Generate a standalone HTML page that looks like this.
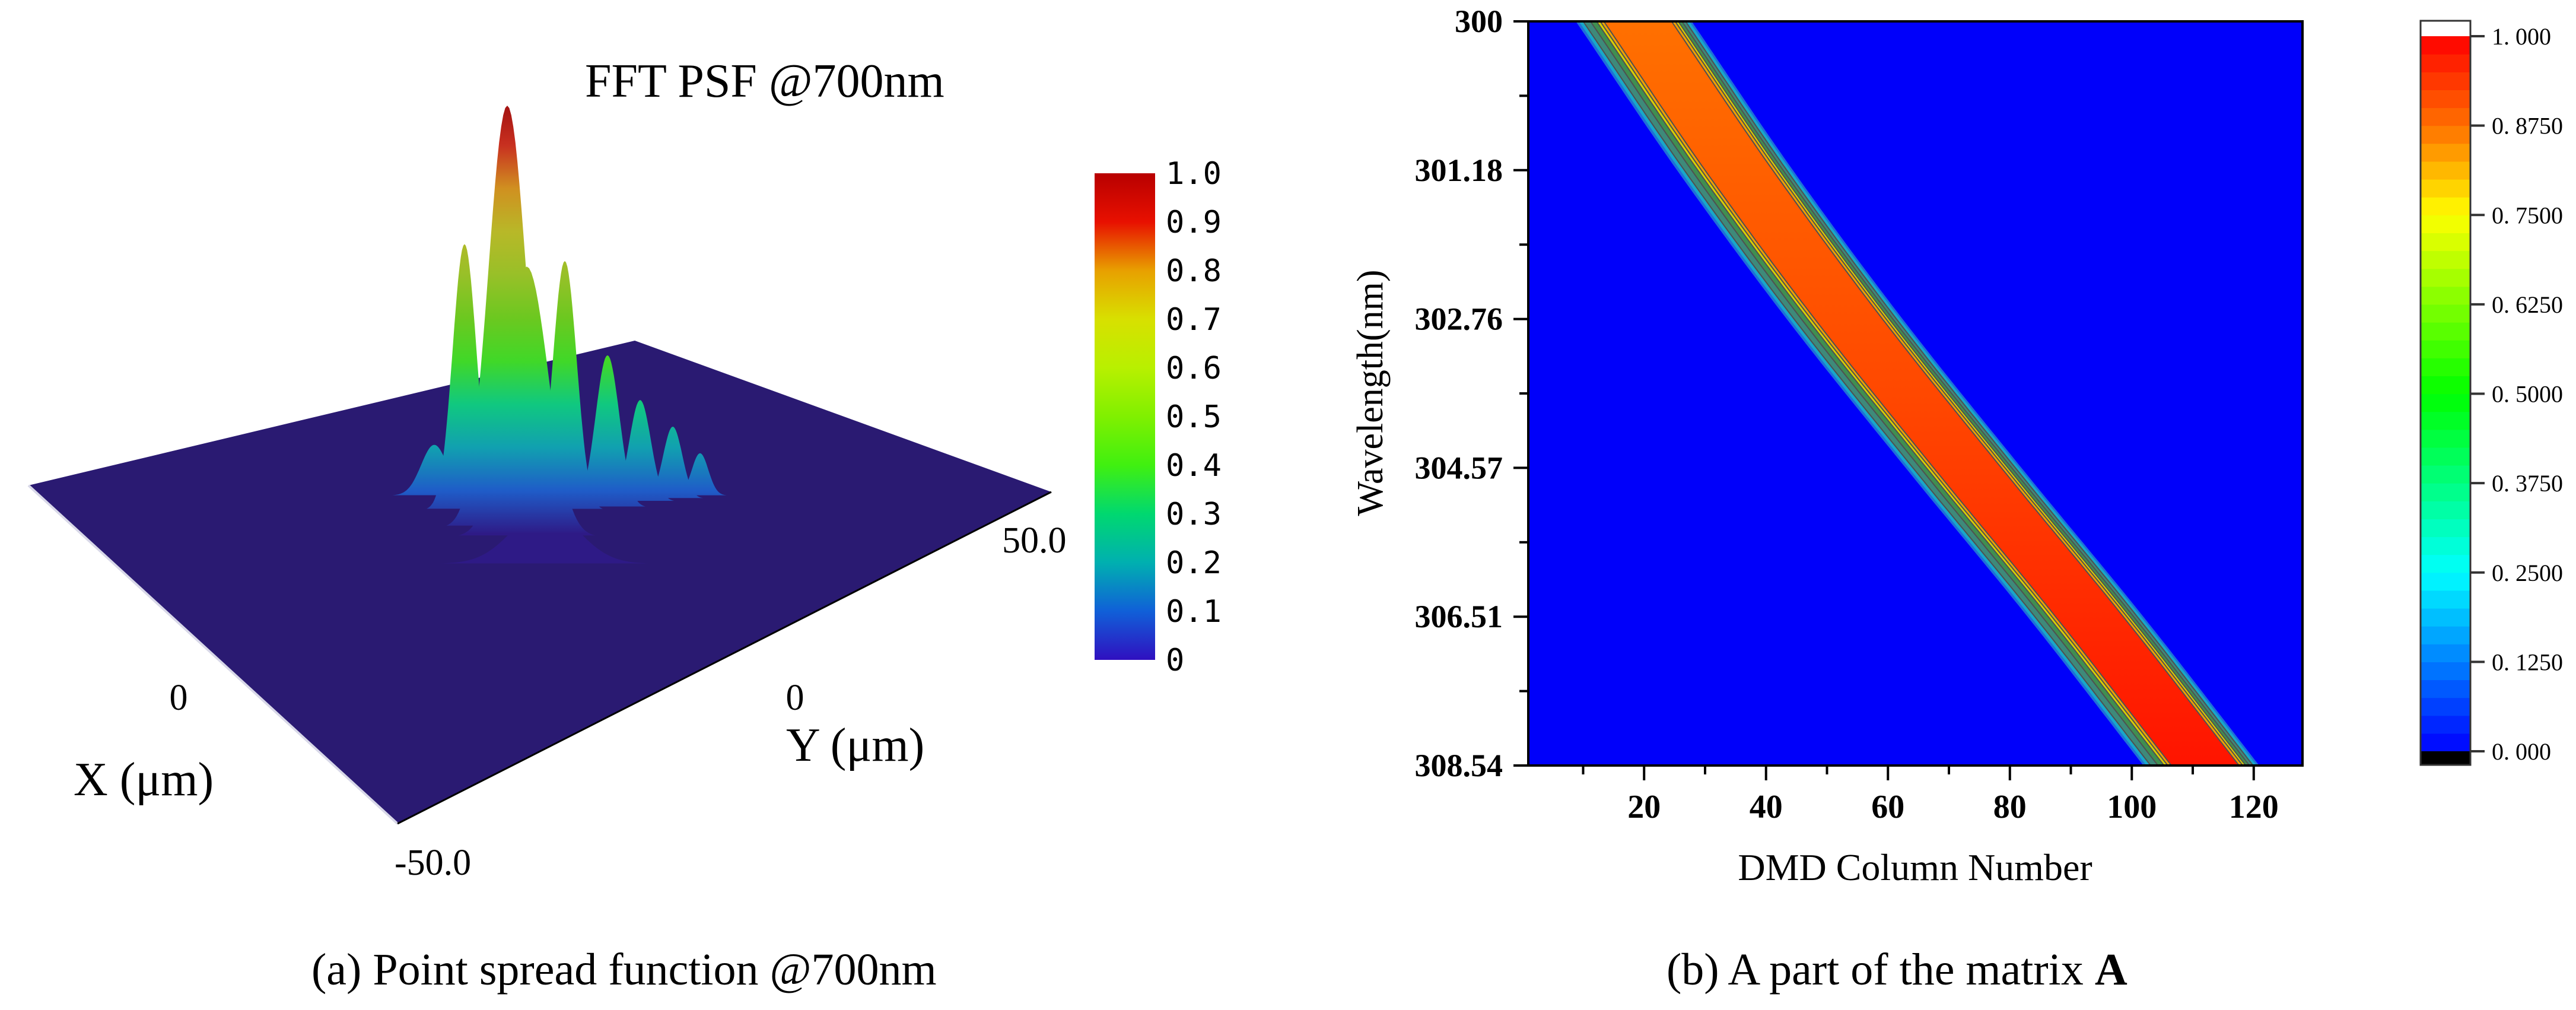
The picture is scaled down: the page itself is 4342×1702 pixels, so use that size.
<!DOCTYPE html>
<html><head><meta charset="utf-8"><style>
html,body{margin:0;padding:0;background:#fff;}
svg{display:block;}
text{font-family:"Liberation Serif",serif;fill:#000;}
</style></head><body>
<svg id="fig" width="4342" height="1702" viewBox="0 0 4342 1702" xmlns="http://www.w3.org/2000/svg">
<defs>
<linearGradient id="psfGrad" gradientUnits="userSpaceOnUse" x1="0" y1="900" x2="0" y2="172">
<stop offset="0" stop-color="#2e1a86"/><stop offset="0.1" stop-color="#1f5cc8"/><stop offset="0.2" stop-color="#11a0b0"/><stop offset="0.3" stop-color="#10c880"/><stop offset="0.4" stop-color="#40d828"/><stop offset="0.5" stop-color="#6cc820"/><stop offset="0.6" stop-color="#98c028"/><stop offset="0.7" stop-color="#b8b828"/><stop offset="0.8" stop-color="#d09020"/><stop offset="0.9" stop-color="#c83020"/><stop offset="1" stop-color="#a01010"/>
</linearGradient>
<linearGradient id="cbLeft" x1="0" y1="1" x2="0" y2="0">
<stop offset="0" stop-color="#3010c0"/><stop offset="0.1" stop-color="#1060d8"/><stop offset="0.2" stop-color="#00b0b0"/><stop offset="0.3" stop-color="#00d870"/><stop offset="0.4" stop-color="#40f010"/><stop offset="0.5" stop-color="#80f000"/><stop offset="0.6" stop-color="#b8f000"/><stop offset="0.7" stop-color="#d8e000"/><stop offset="0.8" stop-color="#e8a000"/><stop offset="0.9" stop-color="#e81000"/><stop offset="1" stop-color="#b80000"/>
</linearGradient>
<linearGradient id="coreGrad" gradientUnits="userSpaceOnUse" x1="0" y1="36" x2="0" y2="1290">
<stop offset="0" stop-color="#ff7000"/><stop offset="0.5" stop-color="#ff4800"/><stop offset="1" stop-color="#ff1400"/>
</linearGradient>
<clipPath id="plotClip"><rect x="2576" y="36" width="1305" height="1254"/></clipPath>
</defs>

<g id="left">
<polygon points="48,818 1070,574 1772,829 670,1388" fill="#2a1a72"/>
<line x1="48" y1="818" x2="670" y2="1388" stroke="#d8d8e8" stroke-width="4"/>
<line x1="670" y1="1388" x2="1772" y2="829" stroke="#000" stroke-width="3"/>
<g id="peaks"></g>
<text x="986" y="163" font-size="80">FFT PSF @700nm</text>
<text x="301" y="1196" font-size="62" text-anchor="middle">0</text>
<text x="124" y="1340" font-size="80">X (μm)</text>
<text x="1340" y="1196" font-size="62" text-anchor="middle">0</text>
<text x="1325" y="1282" font-size="80">Y (μm)</text>
<text x="665" y="1474" font-size="62">-50.0</text>
<text x="1689" y="931" font-size="62">50.0</text>
<rect x="1845" y="292" width="102" height="820" fill="url(#cbLeft)"/>
<g id="cbLeftLabels"></g>
<text x="525" y="1659" font-size="76">(a) Point spread function @700nm</text>
</g>

<g id="right">
<rect x="2576" y="36" width="1305" height="1254" fill="#0000fa"/>
<g id="band" clip-path="url(#plotClip)"></g>
<rect x="2576" y="36" width="1305" height="1254" fill="none" stroke="#000" stroke-width="4"/>
<g id="axesR"></g>
<text transform="translate(2330,662) rotate(-90)" font-size="62" text-anchor="middle">Wavelength(nm)</text>
<text x="3228" y="1483" font-size="64" text-anchor="middle">DMD Column Number</text>
<text x="2809" y="1659" font-size="76">(b) A part of the matrix <tspan font-weight="bold">A</tspan></text>
<g id="cbRight"></g>
</g>
</svg>
<script>
const NS="http://www.w3.org/2000/svg";
// PSF peaks data (drawn back to front)
const peakX=[1180,1134,1079,1024,732,783,855,952,888,919];
const peakBase=[835,840,845,855,835,860,890,860,905,950];
const peakHeight=[0.10,0.17,0.24,0.36,0.12,0.63,1.0,0.59,0.64,0.13];
const peakSigma=[14,16,18,20,22,20,32,20,36,55];
// Colorbar (left) ticks
const cbLeftTicks=["0","0.1","0.2","0.3","0.4","0.5","0.6","0.7","0.8","0.9","1.0"];
// Heatmap data
const wlLabels=["300","301.18","302.76","304.57","306.51","308.54"];
const xTicks=[20,40,60,80,100,120];
const bandCenter=[18.4,35.0,53.0,72.5,92.5,111.5];
const levelL=[9.6,9.1,8.4,7.2,6.2,5.6,5.0];
const levelR=[9.4,9.0,8.4,7.8,7.2,6.7,6.1];
const levelColors=["#1f6fd8","#18a8c8","#3d8a7a","#3f8f50","#d8d000","#f0a000","url(#coreGrad)"];
const cbRightTicks=["0. 000","0. 1250","0. 2500","0. 3750","0. 5000","0. 6250","0. 7500","0. 8750","1. 000"];

function mk(tag,attrs,parent){const e=document.createElementNS(NS,tag);for(const k in attrs)e.setAttribute(k,attrs[k]);parent.appendChild(e);return e;}

const pk=document.getElementById('peaks');
const pxPerUnit=712;
peakX.forEach((x,i)=>{
  const b=peakBase[i],s=peakSigma[i],h=peakHeight[i]*pxPerUnit;
  let d='';
  for(let k=0;k<=60;k++){
    const dx=-3.2*s+k*6.4*s/60;
    const y=b-h*Math.exp(-dx*dx/(2*s*s));
    d+=(k?'L':'M')+(x+dx).toFixed(1)+','+y.toFixed(1)+' ';
  }
  d+='Z';
  const p=mk('path',{d:d,fill:'url(#psfGrad)'},pk);
  
  
});
const cbl=document.getElementById('cbLeftLabels');
const cbTop=292,cbBot=1112;
cbLeftTicks.forEach((s,i)=>{
  const y=cbBot-(cbBot-cbTop)*i/(cbLeftTicks.length-1);
  const t=mk('text',{x:1965,y:y+18,'font-size':52,style:'font-family:"DejaVu Sans Mono",monospace'},cbl);
  t.textContent=s;
  
  
});

const X0=2576,X1=3881,Y0=36,Y1=1290,C0=1,C1=128;
const sx=c=>X0+(c-C0)/(C1-C0)*(X1-X0);
const sy=r=>Y0+r/(wlLabels.length-1)*(Y1-Y0);
const band=document.getElementById('band');
const N=120;
function centerAt(r){
  const n=bandCenter.length;
  const i=Math.min(Math.floor(r),n-2),t=r-i;
  const p0=i>0?bandCenter[i-1]:2*bandCenter[0]-bandCenter[1];
  const p1=bandCenter[i],p2=bandCenter[i+1];
  const p3=i+2<n?bandCenter[i+2]:2*bandCenter[n-1]-bandCenter[n-2];
  return 0.5*((2*p1)+(-p0+p2)*t+(2*p0-5*p1+4*p2-p3)*t*t+(-p0+3*p1-3*p2+p3)*t*t*t);
}
levelL.forEach((lw,k)=>{
  const left=[],right=[];
  for(let j=0;j<=N;j++){
    const r=j/N*(bandCenter.length-1);
    const c=centerAt(r);
    left.push(sx(c-lw).toFixed(1)+','+sy(r).toFixed(1));
    right.push(sx(c+levelR[k]).toFixed(1)+','+sy(r).toFixed(1));
  }
  const attrs={points:left.concat(right.reverse()).join(' '),fill:levelColors[k]};
  if(k>=2){attrs.stroke='#505050';attrs['stroke-width']=2;}
  const p=mk('polygon',attrs,band);
  
  
});
const ax=document.getElementById('axesR');
wlLabels.forEach((s,i)=>{
  const y=sy(i);
  const l=mk('line',{x1:X0-25,y1:y,x2:X0,y2:y,stroke:'#000','stroke-width':4},ax);
  
  
  const t=mk('text',{x:2533,y:y+18,'font-size':54,'font-weight':'bold','text-anchor':'end'},ax);
  t.textContent=s;
  
  
  if(i<wlLabels.length-1){
    const ym=(sy(i)+sy(i+1))/2;
    const m=mk('line',{x1:X0-15,y1:ym,x2:X0,y2:ym,stroke:'#000','stroke-width':4},ax);
    
    
  }
});
for(let v=10;v<=120;v+=10){
  const x=sx(v),major=v%20===0;
  const l=mk('line',{x1:x,y1:Y1,x2:x,y2:Y1+(major?25:15),stroke:'#000','stroke-width':4},ax);
  
  
}
xTicks.forEach(v=>{
  const t=mk('text',{x:sx(v),y:1378,'font-size':56,'font-weight':'bold','text-anchor':'middle'},ax);
  t.textContent=String(v);
  
  
});
const cbr=document.getElementById('cbRight');
const RX=4080,RW=84,RT=61,RB=1266;
function jet(v){
  const s=[[0,[0,0,255]],[0.25,[0,255,255]],[0.5,[0,255,0]],[0.75,[255,255,0]],[0.875,[255,112,0]],[1,[255,0,0]]];
  for(let i=0;i<s.length-1;i++){if(v<=s[i+1][0]){const f=(v-s[i][0])/(s[i+1][0]-s[i][0]);const a=s[i][1],b=s[i+1][1];return 'rgb('+a.map((q,k)=>Math.round(q+(b[k]-q)*f)).join(',')+')';}}
  return 'rgb(255,0,0)';
}
const steps=40;
for(let i=0;i<steps;i++){
  const y=RB-(i+1)*(RB-RT)/steps;
  const r=mk('rect',{x:RX,y:y,width:RW,height:(RB-RT)/steps+0.6,fill:jet((i+0.5)/steps)},cbr);
  
  
}
const wt=mk('rect',{x:RX,y:35,width:RW,height:RT-35,fill:'#fff'},cbr);


const bk=mk('rect',{x:RX,y:RB,width:RW,height:1289-RB,fill:'#000'},cbr);


const fr=mk('rect',{x:RX,y:35,width:RW,height:1254,fill:'none',stroke:'#333','stroke-width':3},cbr);


cbRightTicks.forEach((s,i)=>{
  const y=RB-(RB-RT)*i/(cbRightTicks.length-1);
  const l=mk('line',{x1:RX+RW,y1:y,x2:RX+RW+24,y2:y,stroke:'#333','stroke-width':4},cbr);
  
  
  const t=mk('text',{x:4200,y:y+14,'font-size':40,fill:'#333'},cbr);
  t.textContent=s;
  
  
});
</script>
</body></html>
